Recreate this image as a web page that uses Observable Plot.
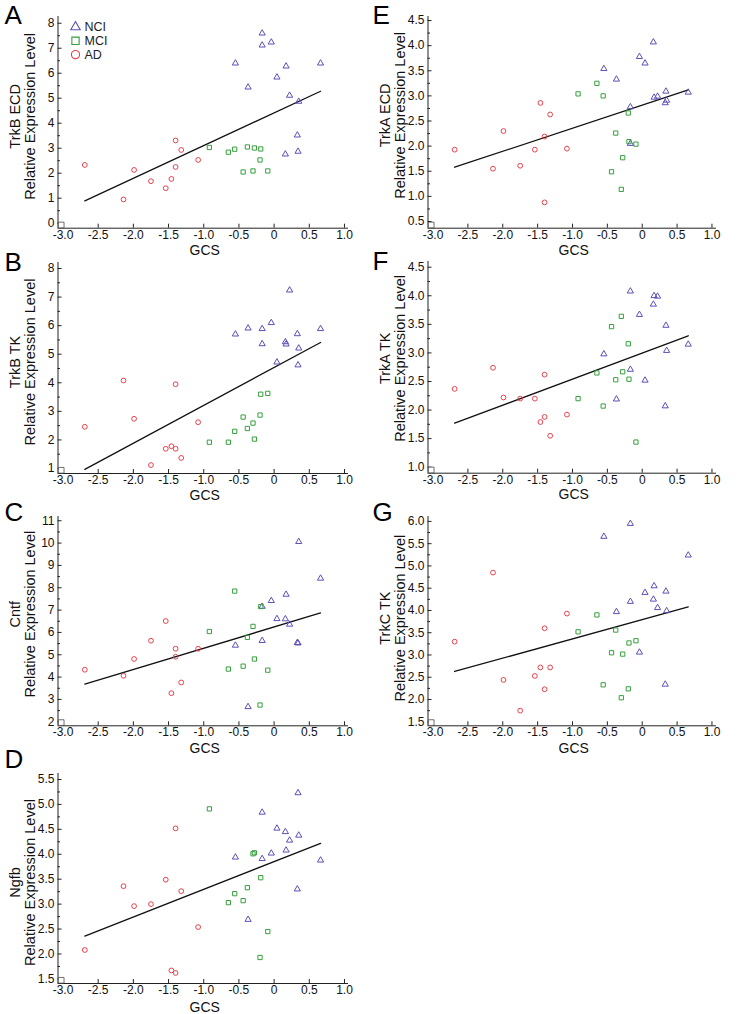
<!DOCTYPE html>
<html><head><meta charset="utf-8">
<script src="https://cdn.jsdelivr.net/npm/d3@7"></script>
<script src="https://cdn.jsdelivr.net/npm/@observablehq/plot@0.6"></script>
<style>
html,body{margin:0;padding:0;background:#fff}
#page{position:relative;width:742px;height:1014px;overflow:hidden;background:#fff;font-family:"Liberation Sans",Arial,Helvetica,sans-serif}
.panel{position:absolute}
</style></head><body><div id="page"></div>
<script>
// ---------- DATA ----------
const groups = ["NCI", "MCI", "AD"];
const panelLetters = ["A", "B", "C", "D", "E", "F", "G"];
const panelGenes = ["TrkB ECD", "TrkB TK", "Cntf", "Ngfb", "TrkA ECD", "TrkA TK", "TrkC TK"];
const yAxisTitle = "Relative Expression Level";
const xAxisTitle = "GCS";

// GCS (x) per subject, shared by all panels
const gcsAD  = [-2.69, -2.14, -1.99, -1.75, -1.54, -1.46, -1.40, -1.40, -1.32, -1.08];
const gcsMCI = [-0.92, -0.65, -0.56, -0.44, -0.38, -0.30, -0.28, -0.20, -0.19, -0.09];
const gcsNCI = [-0.55, -0.37, -0.17, -0.17, -0.04, 0.04, 0.16, 0.17, 0.22, 0.33, 0.34, 0.35, 0.66];

// A: TrkB ECD
const trkbEcdAD  = [2.33, 0.95, 2.13, 1.68, 1.40, 1.77, 3.31, 2.25, 2.93, 2.53];
const trkbEcdMCI = [3.03, 2.84, 2.96, 2.05, 3.05, 2.09, 3.01, 2.53, 2.97, 2.09];
const trkbEcdNCI = [6.40, 5.44, 7.60, 7.12, 7.24, 5.84, 2.76, 6.28, 5.11, 3.52, 2.87, 4.87, 6.40];
// B: TrkB TK
const trkbTkAD  = [2.46, 4.08, 2.74, 1.12, 1.69, 1.78, 3.95, 1.69, 1.37, 2.62];
const trkbTkMCI = [1.92, 1.92, 2.30, 2.80, 2.40, 2.59, 2.03, 2.87, 3.60, 3.63];
const trkbTkNCI = [5.70, 5.91, 5.89, 5.36, 6.10, 4.72, 5.43, 5.35, 7.24, 5.71, 4.62, 5.21, 5.89];
// C: Cntf
const cntfAD  = [4.33, 4.06, 4.81, 5.63, 6.51, 3.28, 5.27, 4.91, 3.76, 5.27];
const cntfMCI = [6.04, 4.36, 7.85, 4.49, 5.78, 6.27, 4.81, 2.75, 7.16, 4.31];
const cntfNCI = [5.42, 2.67, 5.63, 7.16, 7.42, 6.61, 6.60, 7.70, 6.36, 5.54, 5.52, 10.06, 8.42];
// D: Ngfb
const ngfbAD  = [2.08, 3.36, 2.96, 3.00, 3.49, 1.67, 4.52, 1.62, 3.26, 2.54];
const ngfbMCI = [4.91, 3.03, 3.21, 3.07, 3.33, 4.01, 4.03, 1.93, 3.53, 2.45];
const ngfbNCI = [3.94, 2.69, 4.84, 3.91, 4.02, 4.52, 4.45, 4.08, 4.28, 3.30, 5.23, 4.38, 3.88];
// E: TrkA ECD
const trkaEcdAD  = [1.93, 1.55, 2.30, 1.61, 1.93, 2.86, 2.19, 0.88, 2.63, 1.95];
const trkaEcdMCI = [3.04, 3.25, 3.00, 1.49, 2.26, 1.14, 1.77, 2.66, 2.09, 2.04];
const trkaEcdNCI = [3.54, 3.33, 2.78, 2.05, 3.78, 3.65, 4.07, 2.97, 2.99, 2.86, 3.09, 2.91, 3.07];
// F: TrkA TK
const trkaTkAD  = [2.37, 2.74, 2.22, 2.20, 2.20, 1.79, 2.62, 1.88, 1.55, 1.92];
const trkaTkMCI = [2.20, 2.65, 2.07, 3.46, 2.53, 3.64, 2.67, 3.16, 2.54, 1.44];
const trkaTkNCI = [2.98, 2.19, 4.08, 2.71, 3.67, 2.52, 3.85, 4.00, 3.99, 2.07, 3.48, 3.04, 3.15];
// G: TrkC TK
const trkcTkAD  = [3.30, 4.85, 2.44, 1.75, 2.53, 2.72, 3.60, 2.23, 2.72, 3.93];
const trkcTkMCI = [3.52, 3.90, 2.33, 3.05, 3.56, 2.04, 3.02, 2.24, 3.27, 3.32];
const trkcTkNCI = [5.66, 3.97, 5.95, 4.20, 3.06, 4.40, 4.25, 4.55, 4.06, 2.34, 4.43, 3.99, 5.24];

// fitted regression line: value at lowest GCS and at highest GCS
const fitLeft  = [0.89, 0.97, 3.69, 2.36, 1.58, 1.77, 2.63];
const fitRight = [5.28, 5.41, 6.87, 4.22, 3.12, 3.30, 4.08];

// tick labels
const xTicks = [-3.0, -2.5, -2.0, -1.5, -1.0, -0.5, 0, 0.5, 1.0];
const yTicksA = [0, 1, 2, 3, 4, 5, 6, 7, 8];
const yTicksB = [1, 2, 3, 4, 5, 6, 7, 8];
const yTicksC = [2, 3, 4, 5, 6, 7, 8, 9, 10, 11];
const yTicksD = [1.5, 2.0, 2.5, 3.0, 3.5, 4.0, 4.5, 5.0, 5.5];
const yTicksE = [0.5, 1.0, 1.5, 2.0, 2.5, 3.0, 3.5, 4.0, 4.5];
const yTicksF = [1.0, 1.5, 2.0, 2.5, 3.0, 3.5, 4.0, 4.5];
const yTicksG = [1.5, 2.0, 2.5, 3.0, 3.5, 4.0, 4.5, 5.0, 5.5, 6.0];

// ---------- LAYOUT / STYLE ----------
const colors = {NCI: "#5a50b8", MCI: "#35a03c", AD: "#e8404c"};
const symbols = {NCI: "triangle", MCI: "square", AD: "circle"};
const axisColor = "#222";
const FONT = "'Liberation Sans', Arial, Helvetica, sans-serif";
const cols = [
  {svgLeft: 0, width: 365, L: 57.5, R: 348, xDomain: [-3.071, 1.057], letterX: 4, ylabX: 22.3},
  {svgLeft: 365, width: 377, L: 427.5, R: 716, xDomain: [-3.072, 1.065], letterX: 372, ylabX: 392.5}
];
const layout = [
  {col: 0, T: 16,    B: 227.7, yDomain: [-0.2, 8.27],  ylabDy: -6, letterY: 24,  gcsDy: 27, fmt: 0},
  {col: 0, T: 261.7, B: 472.7, yDomain: [0.825, 8.21], ylabDy: -6, letterY: 270, gcsDy: 26, fmt: 0},
  {col: 0, T: 515.7, B: 725,   yDomain: [1.82, 11.19], ylabDy: -7, letterY: 520, gcsDy: 27, fmt: 0},
  {col: 0, T: 773.3, B: 983.3, yDomain: [1.408, 5.62], ylabDy: 4,  letterY: 768, gcsDy: 28.5, fmt: 1},
  {col: 1, T: 16,    B: 227.7, yDomain: [0.367, 4.58], ylabDy: -7, letterY: 24,  gcsDy: 27, fmt: 1},
  {col: 1, T: 261,   B: 472.7, yDomain: [0.895, 4.6],  ylabDy: -9, letterY: 270, gcsDy: 26, fmt: 1},
  {col: 1, T: 515.7, B: 725,   yDomain: [1.41, 6.11],  ylabDy: -3, letterY: 520, gcsDy: 27, fmt: 1}
];

const panelData = [
  [trkbEcdNCI, trkbEcdMCI, trkbEcdAD, yTicksA],
  [trkbTkNCI, trkbTkMCI, trkbTkAD, yTicksB],
  [cntfNCI, cntfMCI, cntfAD, yTicksC],
  [ngfbNCI, ngfbMCI, ngfbAD, yTicksD],
  [trkaEcdNCI, trkaEcdMCI, trkaEcdAD, yTicksE],
  [trkaTkNCI, trkaTkMCI, trkaTkAD, yTicksF],
  [trkcTkNCI, trkcTkMCI, trkcTkAD, yTicksG]
];
const gcsByGroup = {NCI: gcsNCI, MCI: gcsMCI, AD: gcsAD};
const [gcsMin, gcsMax] = d3.extent([...gcsAD, ...gcsMCI, ...gcsNCI]);

const fmtX = d => d === 0 ? "0" : d.toFixed(1);
const MT = 16, MB = 40;
const page = document.getElementById("page");

panelLetters.forEach((letter, i) => {
  const lay = layout[i];
  const col = cols[lay.col];
  const [nci, mci, ad, yTicks] = panelData[i];
  const vals = {NCI: nci, MCI: mci, AD: ad};
  const yMinor = yTicks.slice(0, -1).map((t, k) => (t + yTicks[k + 1]) / 2);
  const fmtY = lay.fmt ? (d => d.toFixed(1)) : (d => String(d));
  const frameH = lay.B - lay.T;
  const W = col.width, H = frameH + MT + MB;
  const L = col.L - col.svgLeft;

  const marks = [
    Plot.ruleX([col.xDomain[0]], {stroke: axisColor, strokeWidth: 1}),
    Plot.ruleY([lay.yDomain[0]], {stroke: axisColor, strokeWidth: 1}),
    Plot.axisX(xTicks, {anchor: "bottom", tickSize: 0, tickPadding: 2, tickFormat: fmtX, fontSize: 12, fill: "#111", label: null}),
    Plot.axisX(xTicks, {anchor: "bottom", tickSize: 4, dy: -4, fill: "none", stroke: axisColor}),
    Plot.axisY(yTicks, {anchor: "left", tickSize: 0, tickPadding: 3.5, tickFormat: fmtY, fontSize: 12, fill: "#111", label: null}),
    Plot.axisY(yTicks, {anchor: "left", tickSize: 4, dx: 4, fill: "none", stroke: axisColor}),
    Plot.axisY(yMinor, {anchor: "left", tickSize: 2.5, dx: 2.5, fill: "none", stroke: axisColor}),
    Plot.dot([letter], {frameAnchor: "bottom-left", dx: 3.2, dy: -3.2, symbol: "square", r: 3.2, stroke: "#333", strokeWidth: 0.7, fill: "white"}),
    Plot.line([{x: gcsMin, y: fitLeft[i]}, {x: gcsMax, y: fitRight[i]}], {x: "x", y: "y", stroke: "#111", strokeWidth: 1.3}),
    ...groups.map(g => Plot.dot(gcsByGroup[g].map((x, k) => ({x, y: vals[g][k]})), {
      x: "x", y: "y", symbol: symbols[g], r: g === "NCI" ? 2.3 : 2.4, stroke: colors[g], strokeWidth: 1, fill: "none"
    })),
    Plot.text([letter], {frameAnchor: "top-left", dx: col.letterX - col.L, dy: lay.letterY - lay.T, textAnchor: "start", lineAnchor: "bottom", fontSize: 26, fill: "#000", text: d => d}),
    Plot.text([`${panelGenes[i]}\n${yAxisTitle}`], {frameAnchor: "left", dx: col.ylabX - col.L, dy: lay.ylabDy, rotate: -90, textAnchor: "middle", lineAnchor: "middle", lineHeight: 1.0, fontSize: 14.5, fill: "#111", text: d => d}),
    Plot.text([xAxisTitle], {frameAnchor: "bottom", dx: 1.5, dy: lay.gcsDy, textAnchor: "middle", lineAnchor: "bottom", fontSize: 14, fill: "#111", text: d => d})
  ];

  if (i === 0) {
    groups.forEach((g, k) => {
      marks.push(Plot.dot([g], {frameAnchor: "top-left", dx: 17.5, dy: 10.5 + k * 13.8, symbol: symbols[g], r: g === "NCI" ? 3.5 : 4.1, stroke: colors[g], strokeWidth: 1.1, fill: "none"}));
      marks.push(Plot.text([g], {frameAnchor: "top-left", dx: 26.5, dy: 10.5 + k * 13.8, textAnchor: "start", lineAnchor: "middle", fontSize: 12.5, fill: "#222", text: d => d}));
    });
  }

  const svg = Plot.plot({
    width: W, height: H,
    marginLeft: L, marginRight: col.svgLeft + W - col.R,
    marginTop: MT, marginBottom: MB,
    x: {domain: col.xDomain, axis: null},
    y: {domain: lay.yDomain, axis: null},
    style: {background: "none", overflow: "visible", fontFamily: FONT},
    marks
  });
  const div = document.createElement("div");
  div.className = "panel";
  div.style.left = col.svgLeft + "px";
  div.style.top = (lay.T - MT) + "px";
  div.appendChild(svg);
  page.appendChild(div);
});
</script>
</body></html>
